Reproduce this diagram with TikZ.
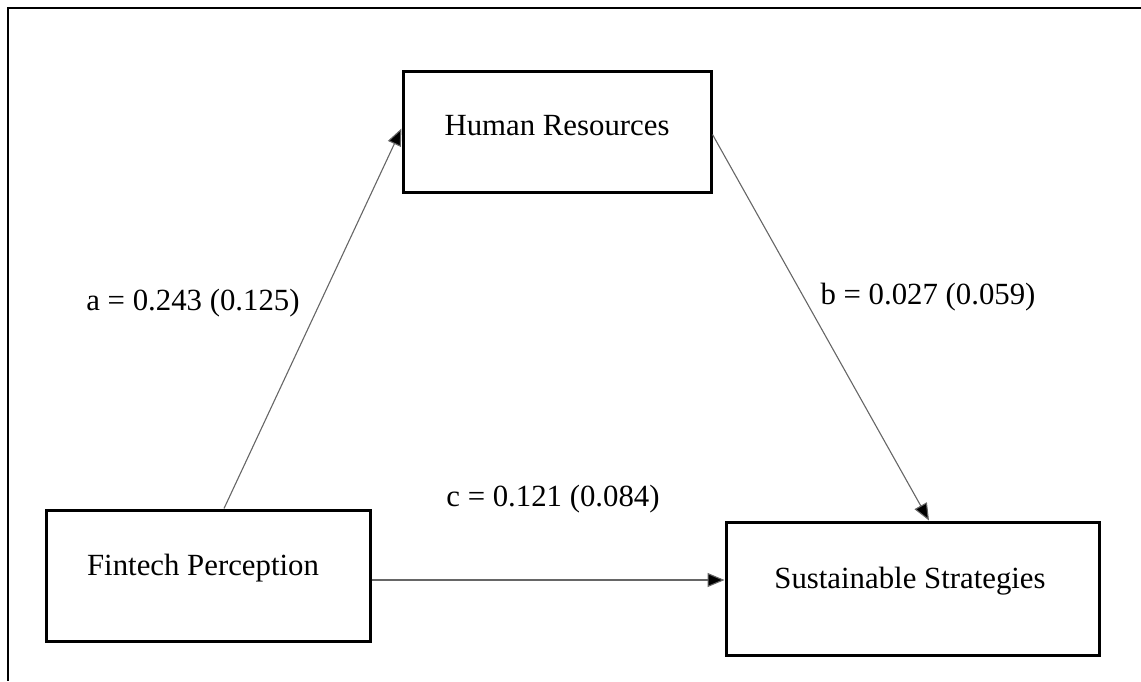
\documentclass[tikz,border=0pt]{standalone}
\usepackage{fontspec}
\setmainfont{Liberation Serif}
\usetikzlibrary{arrows.meta}
\tikzset{
  varbox/.style={draw=black, line width=3pt, minimum width=#1, inner sep=0pt},
  vartext/.style={font=\fontsize{30.8}{36}\selectfont, inner sep=0pt, anchor=center},
  coef/.style={font=\fontsize{30.8}{36}\selectfont, inner sep=0pt, anchor=center},
  path/.style={draw=black!60, line width=1.1pt, -{Triangle[length=17pt,width=14pt,fill=black]}},
  frame/.style={draw=black, line width=2pt}
}
\begin{document}
\begin{tikzpicture}[x=1pt,y=-1pt]
  \useasboundingbox (0,0) rectangle (1141,681);
  % page frame
  \coordinate (ftop) at (1141,8);
  \coordinate (fcorner) at (8,8);
  \coordinate (fbottom) at (8,681);
  \draw[frame] (ftop) -- (fcorner) -- (fbottom);

  % variables
  \node[varbox=308pt, minimum height=121pt] (hr) at (557,131.5) {};
  \node[vartext] (hrt) at (557,126) {Human Resources};
  \node[varbox=324pt, minimum height=131pt] (fp) at (208,575.5) {};
  \node[vartext] (fpt) at (203,568) {Fintech Perception};
  \node[varbox=373pt, minimum height=133pt] (ss) at (912.5,588.5) {};
  \node[vartext] (sst) at (910,581) {Sustainable Strategies};

  % paths
  \draw[path] ([xshift=16pt]fp.north) -- ([yshift=3pt]hr.west);
  \draw[path] ([yshift=-3pt]hr.east) -- ([xshift=16.5pt]ss.north);
  \draw[path] ([yshift=-4.5pt]fp.east) -- ([yshift=8.5pt]ss.west);

  % coefficients
  \node[coef] (la) at (193,303) {a = 0.243 (0.125)};
  \node[coef] (lb) at (928,297) {b = 0.027 (0.059)};
  \node[coef] (lc) at (553,499) {c = 0.121 (0.084)};
\end{tikzpicture}
\end{document}
